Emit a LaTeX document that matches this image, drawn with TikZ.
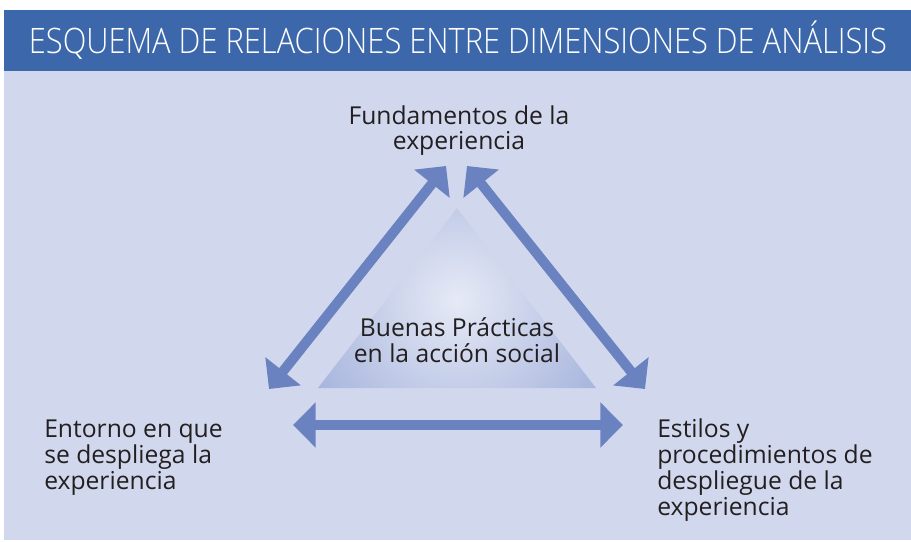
\documentclass[tikz,border=0pt]{standalone}
\usepackage{fontspec}
\setmainfont{Open Sans}
\newfontfamily\hdrfont{Open Sans Light}[FakeStretch=0.88]
\usetikzlibrary{arrows.meta}
\definecolor{hdrblue}{HTML}{3C68AB}
\definecolor{bglight}{HTML}{D1D8EE}
\definecolor{arrowblue}{HTML}{6A82C0}
\definecolor{txtdark}{HTML}{231F20}
\definecolor{triin}{HTML}{E6EAF6}
\definecolor{triout}{HTML}{A3B1DB}
\tikzset{
  lbl/.style={text=txtdark, font=\fontsize{18.5pt}{19.5pt}\selectfont, inner sep=0pt},
  dblarrow/.style={arrowblue, line width=7.5pt, {Triangle[length=17pt,width=33pt]}-{Triangle[length=17pt,width=33pt]}}
}
\begin{document}
\begin{tikzpicture}[x=0.75pt,y=-0.75pt]
\useasboundingbox[fill=white] (0,0) rectangle (911,542);
\fill[bglight] (4,71) rectangle (911,540);
\fill[hdrblue] (4,10) rectangle (911,71);
\node[text=white, inner sep=0pt, anchor=base, font=\hdrfont\fontsize{26.3pt}{28pt}\selectfont] (title) at (458,54) {ESQUEMA DE RELACIONES ENTRE DIMENSIONES DE ANÁLISIS};
% central triangle
\coordinate (ta) at (457,208);
\coordinate (tl) at (318,388);
\coordinate (tr) at (596,388);
\begin{scope}
  \clip (ta) -- (tl) -- (tr) -- cycle;
  \shade[inner color=triin, outer color=triout] (457,300) circle (175);
\end{scope}
\node[lbl, align=center, anchor=base] (center) at (457,362) {Buenas Prácticas\\en la acción social};
% outer labels
\node[lbl, align=center, anchor=base] (top) at (459,150) {Fundamentos de la\\experiencia};
\node[lbl, align=left, anchor=base west] (left) at (44,489) {Entorno en que\\se despliega la\\experiencia};
\node[lbl, align=left, anchor=base west] (right) at (657,515) {Estilos y\\procedimientos de\\despliegue de la\\experiencia};
% arrow end points
\coordinate (a1) at (446,166);
\coordinate (a2) at (269,389);
\coordinate (b1) at (467,166);
\coordinate (b2) at (645,389);
\coordinate (c1) at (293,425);
\coordinate (c2) at (623,425);
\draw[dblarrow] (a1) -- (a2);
\draw[dblarrow] (b1) -- (b2);
\draw[dblarrow] (c1) -- (c2);
\end{tikzpicture}
\end{document}
